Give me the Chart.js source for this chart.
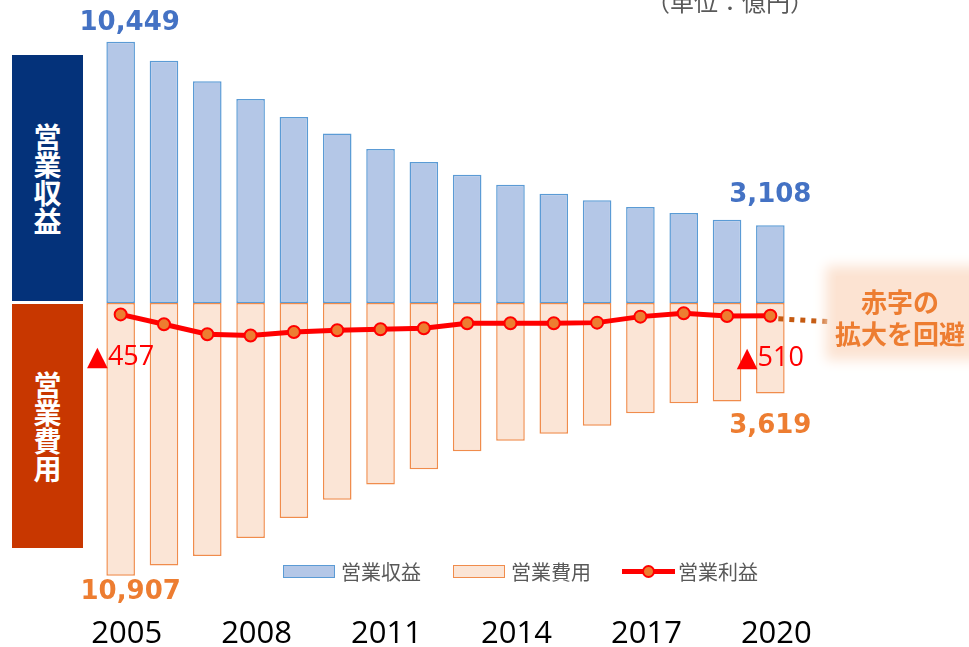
<!DOCTYPE html>
<html lang="ja">
<head>
<meta charset="utf-8">
<title>営業収益・営業費用・営業利益</title>
<script src="https://cdn.jsdelivr.net/npm/chart.js@4.4.1/dist/chart.umd.min.js"></script>
<style>
  body { margin: 0; background: #fff; }
  #wrap { position: relative; width: 969px; height: 647px; overflow: hidden; font-family: "Noto Sans CJK JP", sans-serif; }
  #chart { position: absolute; left: 0; top: 0; }
  .side { position: absolute; left: 12px; width: 71px; color: #fff; font-weight: bold; font-size: 28px; line-height: 28px; text-align: center; display: flex; align-items: center; justify-content: center; }
  #unit { position: absolute; left: 646px; top: -17px; font-size: 24px; color: #595959; white-space: nowrap; }
  .leg { position: absolute; top: 557px; height: 28px; display: flex; align-items: center; font-size: 20px; color: #595959; white-space: nowrap; }
  .sw { width: 50px; height: 11px; margin-right: 6px; }
  #callout { position: absolute; left: 836px; top: 276px; width: 150px; height: 74px; background: #fce3d2; box-shadow: 0 0 12px 10px #fce3d2; }
  #calloutText { position: absolute; left: 829px; top: 285px; width: 142px; text-align: center; color: #ed7d31; font-weight: bold; font-size: 26px; line-height: 32px; }
</style>
</head>
<body>
<div id="wrap">
  <canvas id="chart" width="969" height="647"></canvas>
  <div class="side" style="top:55px;height:246px;background:#04327a;">営<br>業<br>収<br>益</div>
  <div class="side" style="top:304px;height:244px;background:#c83700;">営<br>業<br>費<br>用</div>
  <div id="unit">（単位：億円）</div>
  <div id="callout"></div>
  <div id="calloutText">赤字の<br>拡大を回避</div>
  <div class="leg" style="left:283px;"><div class="sw" style="background:#b4c7e7;border:1px solid #5b9bd5;"></div>営業収益</div>
  <div class="leg" style="left:453px;"><div class="sw" style="background:#fbe5d6;border:1px solid #f08c4c;"></div>営業費用</div>
  <div class="leg" style="left:622px;">
    <div style="position:relative;width:53px;height:5px;background:#ff0000;margin-right:3px;">
      <div style="position:absolute;left:20px;top:-4px;width:13px;height:13px;border-radius:50%;background:#ed7d31;border:2px solid #ff0000;box-sizing:border-box;"></div>
    </div>営業利益
  </div>
</div>
<script>
const years = ['2005', '2006', '2007', '2008', '2009', '2010', '2011', '2012',
  '2013', '2014', '2015', '2016', '2017', '2018', '2019', '2020'];
const revenue = [10449, 9690, 8870, 8165, 7445, 6777, 6165, 5644, 5135, 4735, 4375, 4107, 3843, 3602, 3335, 3108];
const expense = [10907, 10500, 10115, 9400, 8600, 7870, 7255, 6645, 5925, 5510, 5230, 4910, 4405, 4005, 3940, 3619];
const profit = [-457, -850, -1250, -1300, -1160, -1090, -1050, -1010, -810, -810, -810, -785, -545, -410, -520, -510];

const fmt = v => v.toLocaleString('en-US');

const valueLabels = {
  id: 'valueLabels',
  afterDatasetsDraw(chart) {
    const ctx = chart.ctx;
    const rev = chart.getDatasetMeta(0).data;
    const exp = chart.getDatasetMeta(1).data;
    const pts = chart.getDatasetMeta(2).data;
    const last = years.length - 1;
    ctx.save();
    // dotted leader to the callout
    const p = pts[last];
    ctx.strokeStyle = '#c55a11';
    ctx.lineWidth = 5;
    ctx.setLineDash([5, 6]);
    ctx.beginPath();
    ctx.moveTo(p.x + 8, p.y + 3);
    ctx.lineTo(p.x + 60, p.y + 6);
    ctx.stroke();
    ctx.setLineDash([]);

    ctx.textAlign = 'center';
    ctx.textBaseline = 'middle';
    ctx.font = 'bold 26px "DejaVu Sans"';
    ctx.fillStyle = '#4472c4';
    ctx.fillText(fmt(revenue[0]), rev[0].x + 9, rev[0].y - 19);
    ctx.fillText(fmt(revenue[last]), rev[last].x, rev[last].y - 30);
    ctx.fillStyle = '#ed7d31';
    ctx.fillText(fmt(expense[0]), exp[0].x + 10, exp[0].y + 17);
    ctx.fillText(fmt(expense[last]), exp[last].x, exp[last].y + 33);

    ctx.font = '27px "Open Sans", "DejaVu Sans"';
    ctx.fillStyle = '#ff0000';
    ctx.fillText('▲' + Math.abs(profit[0]), pts[0].x, pts[0].y + 43);
    ctx.fillText('▲' + Math.abs(profit[last]), pts[last].x, pts[last].y + 43);
    ctx.restore();
  }
};

const ctx = document.getElementById('chart').getContext('2d');
const chart = new Chart(ctx, {
  data: {
    labels: years,
    datasets: [{
      type: 'bar',
      label: '営業収益',
      data: revenue,
      backgroundColor: '#b4c7e7',
      borderColor: '#5b9bd5',
      borderWidth: 1.5,
      borderSkipped: false,
      grouped: false,
      categoryPercentage: 1,
      barPercentage: 0.66,
      order: 2
    }, {
      type: 'bar',
      label: '営業費用',
      data: expense.map(v => -v),
      backgroundColor: '#fbe5d6',
      borderColor: '#f08c4c',
      borderWidth: 1.5,
      borderSkipped: false,
      grouped: false,
      categoryPercentage: 1,
      barPercentage: 0.66,
      order: 1
    }, {
      type: 'line',
      label: '営業利益',
      data: profit,
      borderColor: '#ff0000',
      borderWidth: 5,
      pointRadius: 6,
      pointBorderWidth: 2,
      pointBackgroundColor: '#ed7d31',
      pointBorderColor: '#ff0000',
      tension: 0,
      order: 0
    }]
  },
  options: {
    responsive: false,
    animation: false,
    layout: { padding: { left: 99, right: 177, top: 28, bottom: 0 } },
    plugins: {
      legend: { display: false },
      tooltip: { enabled: false }
    },
    scales: {
      x: {
        grid: { display: false, drawTicks: false },
        border: { display: false },
        afterFit: scale => { scale.height = 60; },
        ticks: {
          autoSkip: false,
          maxRotation: 0,
          padding: 29,
          labelOffset: 6,
          color: '#000',
          font: { family: 'Open Sans', size: 31 },
          callback: (v, i) => (i % 3 === 0 ? years[i] : '')
        }
      },
      y: {
        display: false,
        min: -11360,
        max: 11000
      }
    }
  },
  plugins: [valueLabels]
});
</script>
</body>
</html>
